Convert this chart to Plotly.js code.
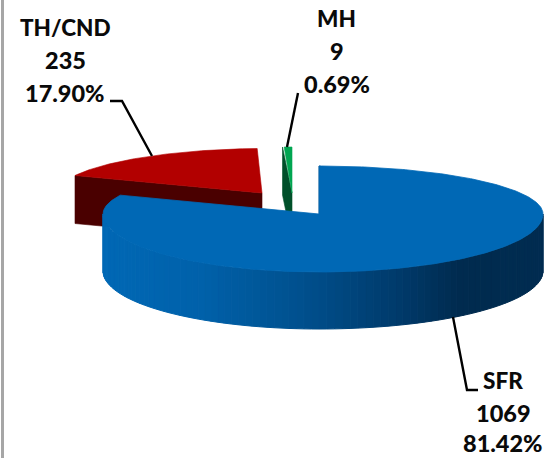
<!DOCTYPE html>
<html>
<head>
<meta charset="utf-8">
<script src="https://cdn.plot.ly/plotly-3.0.1.min.js"></script>
<style>html,body{margin:0;padding:0;background:#fff;overflow:hidden}#chart{width:560px;height:458px}</style>
</head>
<body>
<div id="chart"></div>
<script>
// Housing units by type, drawn as an exploded 3-D pie.
const categories = ["SFR", "TH/CND", "MH"];
const counts = [1069, 235, 9];
const percents = ["81.42%", "17.90%", "0.69%"];

const total = counts.reduce((a, b) => a + b, 0);
const TAU = Math.PI * 2;

// Angles run clockwise from twelve o'clock; the first slice starts there.
const sweeps = counts.map(c => c / total * TAU);
const starts = sweeps.map((_, i) => sweeps.slice(0, i).reduce((a, b) => a + b, 0));

// Projection of each slice: apex position, radii towards each side, wall height, lean.
const views = [
  {cx: 319, cy: 214, left: 216, right: 224, back: 48, front: 58, depth: 57, lean: 0},
  {cx: 262, cy: 193, left: 205, right: 205, back: 44.5, front: 44.5, depth: 48, lean: 0.09},
  {cx: 292, cy: 193, left: 220, right: 220, back: 46, front: 46, depth: 48, lean: 0}
];
const topFill = ["#0068B5", "#B20000", "#00A651"];
const wallFill = ["#00406F", "#4A0000", "#00502A"];

function rim(v, t, drop) {
  const s = Math.sin(t), c = Math.cos(t);
  const up = c * (c >= 0 ? v.back : v.front);
  return [v.cx + s * (s >= 0 ? v.right : v.left) + v.lean * up,
          v.cy - up + (drop || 0)];
}
function polygon(pts, color, width) {
  return {
    x: pts.map(p => p[0]).concat(pts[0][0]),
    y: pts.map(p => p[1]).concat(pts[0][1]),
    mode: "lines", fill: "toself", fillcolor: color,
    line: {color: color, width: width === undefined ? 0.6 : width},
    hoverinfo: "skip", showlegend: false
  };
}
function arc(v, a, b, drop) {
  const n = Math.max(2, Math.ceil(Math.abs(b - a) / 0.012));
  const out = [];
  for (let i = 0; i <= n; i++) out.push(rim(v, a + (b - a) * i / n, drop));
  return out;
}

// Shade of the blue outer wall, darkest towards the lower right.
const shadeStops = [[103, [0, 104, 181]], [200, [0, 97, 170]], [300, [0, 80, 142]],
                    [400, [0, 58, 106]], [457, [0, 43, 79]], [543, [0, 44, 80]]];
function shade(x) {
  for (let i = 1; i < shadeStops.length; i++) {
    const [x0, c0] = shadeStops[i - 1], [x1, c1] = shadeStops[i];
    if (x <= x1) {
      const f = Math.max(0, (x - x0) / (x1 - x0));
      return "rgb(" + c0.map((c, k) => Math.round(c + (c1[k] - c) * f)).join(",") + ")";
    }
  }
  return "rgb(0,44,80)";
}

const traces = [];

// Far slices first so the large slice overlaps them.
[1, 2].forEach(i => {
  const v = views[i], a = starts[i], b = a + sweeps[i];
  const edge = rim(v, a), apex = [v.cx, v.cy];
  traces.push(polygon([edge, apex, [apex[0], apex[1] + v.depth], [edge[0], edge[1] + v.depth]], wallFill[i]));
  traces.push(polygon([apex].concat(i === 2 ? [rim(v, b), rim({...v, left: 212}, a + 0.006)] : arc(v, a, b)), topFill[i]));
});

// Large slice: thin inner cut, outer wall strips, then the top face.
const big = views[0], bigEnd = sweeps[0];
traces.push(polygon([rim(big, 0), [big.cx, big.cy], [big.cx + 1.5, big.cy], [big.cx + 1.5, rim(big, 0)[1]]], "#00335A"));
const strips = 90;
for (let i = 0; i < strips; i++) {
  const a = Math.PI / 2 + Math.PI * i / strips, b = Math.PI / 2 + Math.PI * (i + 1) / strips;
  const upper = arc(big, a, b), lower = arc(big, b, a, big.depth);
  traces.push(polygon(upper.concat(lower), shade((upper[0][0] + upper[upper.length - 1][0]) / 2), 1));
}
traces.push(polygon([[big.cx, big.cy]].concat(arc(big, 0, bigEnd)), topFill[0], 0.8));

// Text rows beside each slice: name, count, share.
const labelSpots = [
  {x: 503, ys: [380.5, 412.5, 442.7]},
  {x: 65, ys: [27, 60, 92.5]},
  {x: 336.5, ys: [18, 51, 83.5]}
];
const annotations = [];
categories.forEach((name, i) => {
  [name, String(counts[i]), percents[i]].forEach((text, row) => {
    annotations.push({
      x: labelSpots[i].x, y: labelSpots[i].ys[row], xref: "x", yref: "y",
      text: text, showarrow: false, xanchor: "center", yanchor: "middle",
      font: {family: "Lato, Carlito, sans-serif", size: row === 0 ? 22.5 : 23.5, color: "#0a0a0a", weight: 900}
    });
  });
});

// Leader lines and the frame edge on the left.
function path(pts, color, width) {
  return {type: "path", xref: "x", yref: "y",
          path: "M" + pts.map(p => p.join(",")).join("L"),
          line: {color: color, width: width}, layer: "above"};
}
const shapes = [
  path([[110, 101], [122, 101], [152, 156]], "#000", 2.4),
  path([[298, 93], [287, 147]], "#000", 2.4),
  path([[453, 317], [467, 390], [478, 390]], "#000", 2.4),
  path([[2.5, 0], [2.5, 458]], "#A6A6A6", 3)
];

Plotly.newPlot("chart", traces, {
  width: 560, height: 458,
  margin: {l: 0, r: 0, t: 0, b: 0},
  paper_bgcolor: "#fff", plot_bgcolor: "#fff",
  xaxis: {range: [0, 560], visible: false, fixedrange: true},
  yaxis: {range: [458, 0], visible: false, fixedrange: true},
  showlegend: false, annotations: annotations, shapes: shapes
}, {displayModeBar: false, staticPlot: true});
</script>
</body>
</html>
